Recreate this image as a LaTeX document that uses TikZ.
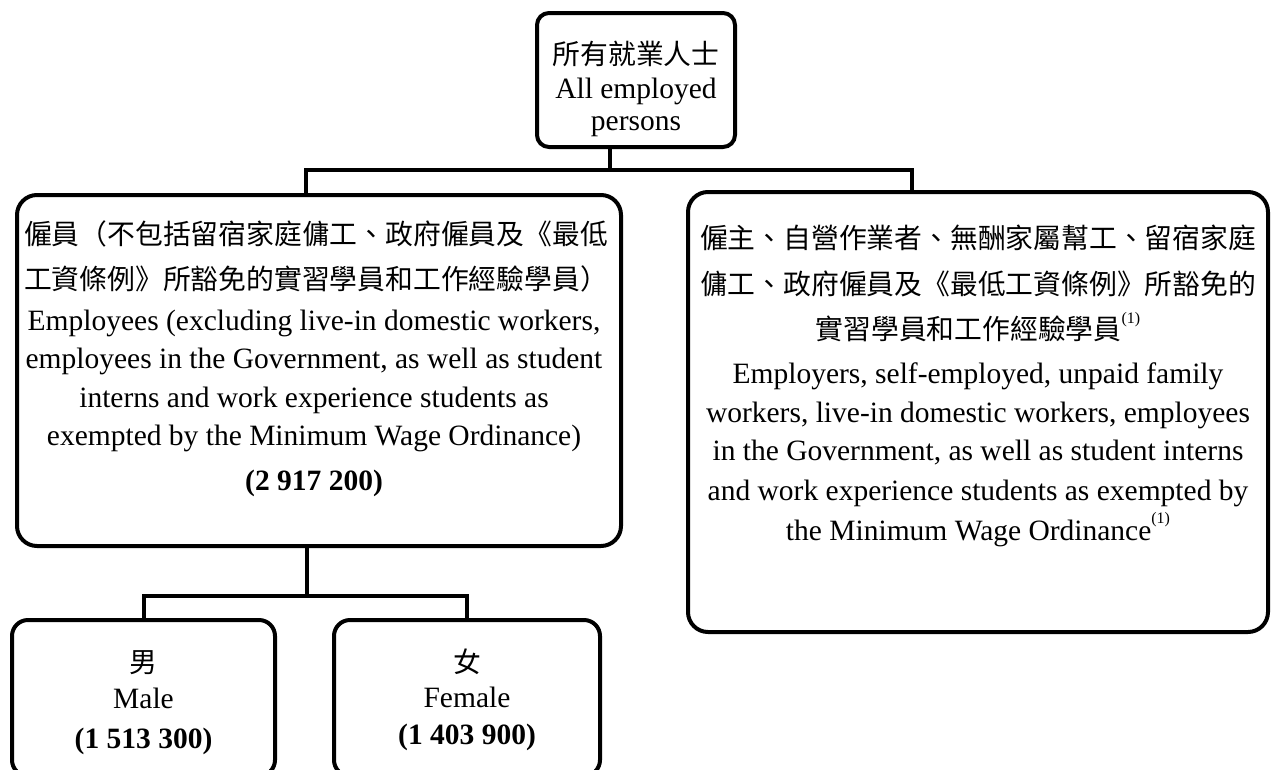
\documentclass[tikz,border=0pt]{standalone}
\usepackage{fontspec}
\setmainfont{Liberation Serif}
\newfontfamily\cjk{Noto Sans CJK TC}
\newcommand\fnmark[1]{\raisebox{0.55em}{\rmfamily\fontsize{16}{16}\selectfont #1}}
\begin{document}
\begin{tikzpicture}[x=1pt,y=-1pt,
  box/.style={draw=black, line width=4pt, rounded corners=#1, inner sep=0pt},
  box/.default=20pt,
  conn/.style={draw=black, line width=4pt},
  en/.style={font=\fontsize{29.5}{36}\selectfont, anchor=base, inner sep=0pt},
  zh/.style={font=\cjk\fontsize{27.8}{34}\selectfont, anchor=base, inner sep=0pt},
  num/.style={font=\bfseries\fontsize{29.5}{36}\selectfont, anchor=base, inner sep=0pt}]
\useasboundingbox[fill=white] (0,0) rectangle (1272,769);

% boxes
\node[box=12pt, minimum width=198pt, minimum height=134pt] (top) at (636,80) {};
\node[box, minimum width=604pt, minimum height=351pt] (left) at (319,370.5) {};
\node[box, minimum width=580pt, minimum height=440pt] (right) at (978,412) {};
\node[box=16pt, minimum width=263pt, minimum height=156pt] (male) at (143.5,698) {};
\node[box=16pt, minimum width=266pt, minimum height=156pt] (female) at (467,698) {};

% top text
\node[zh] (t1) at (636,64) {所有就業人士};
\node[en] (t2) at (636,98) {All employed};
\node[en] (t3) at (636,130) {persons};

% left text
\node[zh] (l1) at (316,244) {僱員（不包括留宿家庭傭工、政府僱員及《最低};
\node[zh] (l2) at (316,289) {工資條例》所豁免的實習學員和工作經驗學員）};
\node[en] (l3) at (314,330) {Employees (excluding live-in domestic workers,};
\node[en] (l4) at (314,368) {employees in the Government, as well as student};
\node[en] (l5) at (314,407) {interns and work experience students as};
\node[en] (l6) at (314,445) {exempted by the Minimum Wage Ordinance)};
\node[num] (l7) at (314,490) {(2 917 200)};

% right text
\node[zh] (r1) at (978,248) {僱主、自營作業者、無酬家屬幫工、留宿家庭};
\node[zh] (r2) at (978,294) {傭工、政府僱員及《最低工資條例》所豁免的};
\node[zh] (r3) at (978,339) {實習學員和工作經驗學員\fnmark{(1)}};
\node[en] (r4) at (978,383) {Employers, self-employed, unpaid family};
\node[en] (r5) at (978,422) {workers, live-in domestic workers, employees};
\node[en] (r6) at (978,460) {in the Government, as well as student interns};
\node[en] (r7) at (978,500) {and work experience students as exempted by};
\node[en] (r8) at (978,540) {the Minimum Wage Ordinance\fnmark{(1)}};

% bottom text
\node[zh] (m1) at (143.5,672) {男};
\node[en] (m2) at (143.5,708) {Male};
\node[num] (m3) at (143.5,748) {(1 513 300)};
\node[zh] (f1) at (467,672) {女};
\node[en] (f2) at (467,707) {Female};
\node[num] (f3) at (467,744) {(1 403 900)};

% connectors
\coordinate (j1) at (610,170);
\coordinate (bL) at (306,170);
\coordinate (bR) at (912,170);
\draw[conn] (top.south -| j1) -- (j1);
\draw[conn] (left.north -| bL) -- (bL) -- (bR) -- (right.north -| bR);
\coordinate (j2) at (307,596);
\draw[conn] (left.south -| j2) -- (j2);
\draw[conn] (male.north) |- (j2) -| (female.north);
\end{tikzpicture}
\end{document}
